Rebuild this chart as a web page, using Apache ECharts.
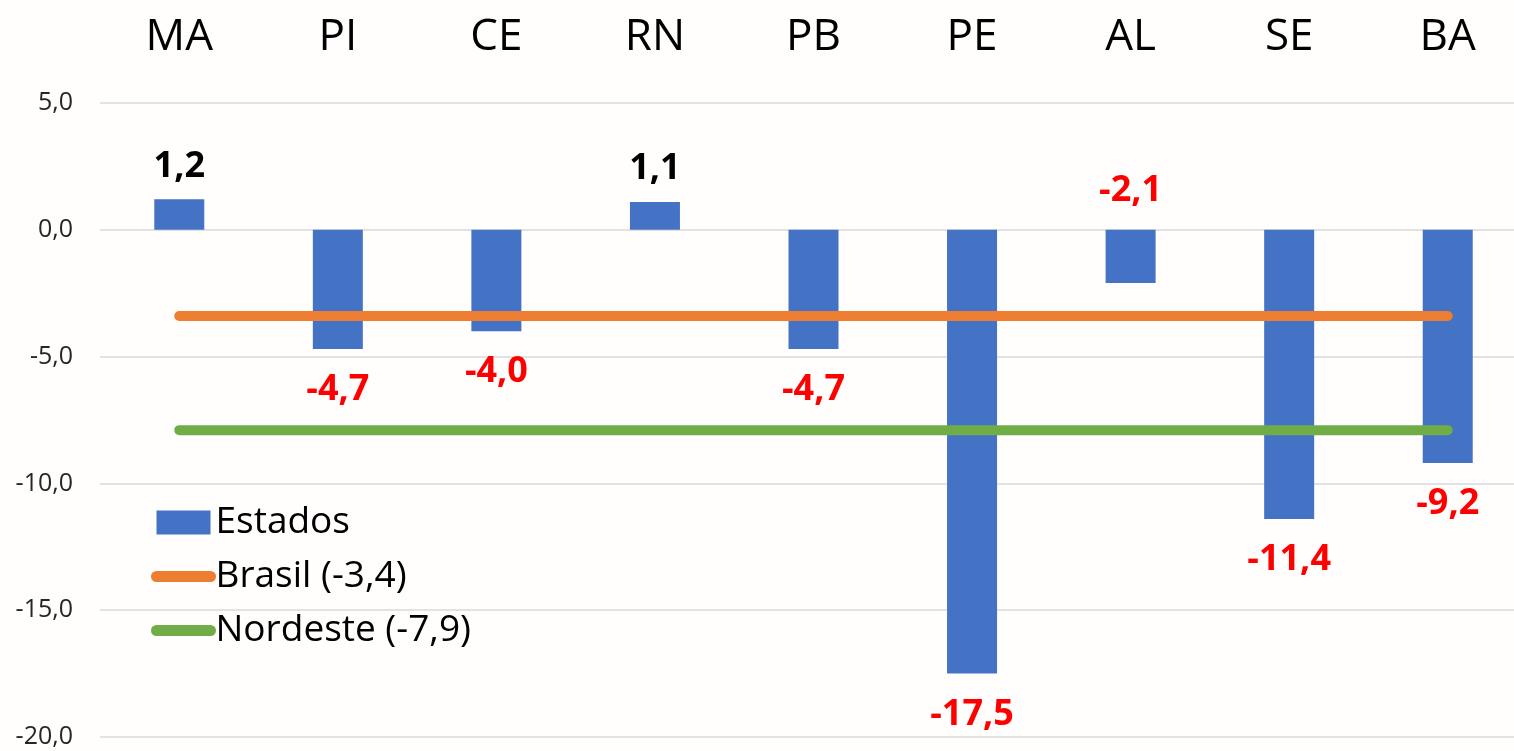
<!DOCTYPE html>
<html>
<head>
<meta charset="utf-8">
<title>Estados do Nordeste</title>
<script src="https://cdn.jsdelivr.net/npm/echarts@6/dist/echarts.min.js"></script>
<style>
  html, body { margin: 0; padding: 0; background: #fffefd; }
  #chart { width: 1514px; height: 751px; }
</style>
</head>
<body>
<div id="chart"></div>
<script>
// Categories: states of the Northeast region
const estados = ['MA', 'PI', 'CE', 'RN', 'PB', 'PE', 'AL', 'SE', 'BA'];
// Variation per state
const valoresEstados = [1.2, -4.7, -4.0, 1.1, -4.7, -17.5, -2.1, -11.4, -9.2];
// Reference levels, one point per state so the lines span the categories
const brasil = [-3.4, -3.4, -3.4, -3.4, -3.4, -3.4, -3.4, -3.4, -3.4];
const nordeste = [-7.9, -7.9, -7.9, -7.9, -7.9, -7.9, -7.9, -7.9, -7.9];
// Series names
const nomeEstados = 'Estados';
const nomeBrasil = 'Brasil (-3,4)';
const nomeNordeste = 'Nordeste (-7,9)';
// Value axis
const yMin = -20, yMax = 5, yStep = 5;

const FONT = '"Open Sans", "Liberation Sans", sans-serif';
const fmt = v => Number(v).toFixed(1).replace('.', ',');

// Short negative bars keep their label above the zero line
const labelAboveZero = ['AL'];

const barData = valoresEstados.map((v, i) => {
  const above = v >= 0 || labelAboveZero.includes(estados[i]);
  return {
    value: v,
    label: {
      position: above ? 'top' : 'bottom',
      distance: v >= 0 ? 15 : (above ? 21 : 23),
      color: v >= 0 ? '#000000' : '#ff0000'
    }
  };
});

const chart = echarts.init(document.getElementById('chart'), null, { renderer: 'canvas' });
chart.setOption({
  animation: false,
  backgroundColor: '#fffefd',
  grid: { left: 100, top: 103, width: 1427, height: 634, containLabel: false, outerBoundsMode: 'none' },
  legend: {
    orient: 'vertical',
    left: 151,
    top: 504,
    padding: 0,
    itemWidth: 54,
    itemHeight: 24,
    itemGap: 17,
    textStyle: { fontFamily: FONT, fontSize: 37, color: '#000000' },
    lineStyle: { width: 11, cap: 'round' },
    data: [
      { name: nomeEstados, icon: 'rect' },
      { name: nomeBrasil, itemStyle: { opacity: 0 } },
      { name: nomeNordeste, itemStyle: { opacity: 0 } }
    ]
  },
  xAxis: {
    type: 'category',
    position: 'top',
    data: estados,
    axisLine: { show: false },
    axisTick: { show: false },
    splitLine: { show: false },
    axisLabel: { fontFamily: FONT, fontSize: 44, color: '#000000', margin: 44 }
  },
  yAxis: {
    type: 'value',
    min: yMin,
    max: yMax,
    interval: yStep,
    axisLine: { show: false },
    axisTick: { show: false },
    axisLabel: { fontFamily: FONT, fontSize: 25, color: '#262626', margin: 27, formatter: fmt },
    splitLine: { lineStyle: { color: '#d9d9d9', width: 1.5 } }
  },
  series: [
    {
      name: nomeEstados,
      type: 'bar',
      data: barData,
      barWidth: 50,
      itemStyle: { color: '#4472c4' },
      label: {
        show: true,
        fontFamily: FONT,
        fontSize: 36,
        fontWeight: 'bold',
        formatter: p => fmt(p.value)
      }
    },
    {
      name: nomeBrasil,
      type: 'line',
      data: brasil,
      symbol: 'none',
      color: '#ed7d31',
      lineStyle: { color: '#ed7d31', width: 10, cap: 'round' }
    },
    {
      name: nomeNordeste,
      type: 'line',
      data: nordeste,
      symbol: 'none',
      color: '#70ad47',
      lineStyle: { color: '#70ad47', width: 10, cap: 'round' }
    }
  ]
});
</script>
</body>
</html>
